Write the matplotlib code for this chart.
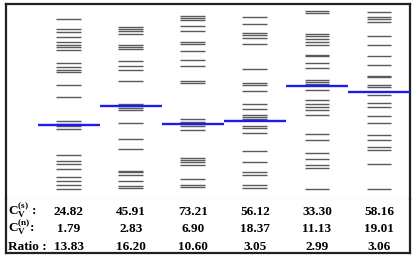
import numpy as np
import matplotlib
matplotlib.use("Agg")
import matplotlib.pyplot as plt

# energy levels per column (arbitrary units)
levels = [
    [180, 169.7, 167.3, 162, 156.7, 153.7, 151.7, 149, 136, 132, 129.3, 127,
     113.7, 101.7, 78, 75.3, 73, 70.3, 44, 38.3, 35.3, 30, 22, 17.7, 13.7, 10],
    [171.7, 169.7, 168, 164.7, 154, 152, 150.3, 138, 133, 129, 118, 94.7, 93,
     91, 89.3, 75.7, 60.3, 49.7, 28.3, 26.7, 23.7, 18, 13.3, 11],
    [183, 180.7, 178.7, 172.7, 168, 156.7, 154.7, 148.3, 139, 133.3, 118, 116,
     79.7, 77.3, 75.5, 73.3, 69, 41.3, 38.7, 36.7, 34.3, 19.7, 14, 11.7],
    [181.7, 174.7, 165.7, 164, 160.7, 155, 129.7, 116.3, 113.7, 107.7, 95, 90,
     84, 82, 80, 72.7, 70.7, 66, 47.7, 37.3, 26.7, 24.3, 13.7, 11],
    [188.3, 185.7, 165.3, 162.7, 160.3, 156.7, 153.7, 144, 142.7, 136.3, 131.3,
     118.7, 116.7, 114.7, 109, 99.3, 94.7, 92.3, 89.3, 84, 65.3, 58.7, 45.7,
     39.7, 34, 30.7, 9.7],
    [187.3, 182, 180.3, 176.7, 162.7, 154.3, 143.3, 134, 123.3, 122, 114, 112,
     103.7, 96.3, 92.3, 83.3, 76, 63.7, 58.7, 52, 48.7, 34.7, 10.3],
]
mean_level = [74.3, 92.7, 75.3, 78, 112.7, 107]

cv_s = ["24.82", "45.91", "73.21", "56.12", "33.30", "58.16"]
cv_n = ["1.79", "2.83", "6.90", "18.37", "11.13", "19.01"]
ratio = ["13.83", "16.20", "10.60", "3.05", "2.99", "3.06"]
row_labels = [r"$\mathbf{C_V^{(s)}}$ :", r"$\mathbf{C_V^{(n)}}$:", "Ratio :"]

plt.rcParams["font.family"] = "Liberation Serif"
plt.rcParams["mathtext.fontset"] = "custom"
plt.rcParams["mathtext.rm"] = "Liberation Serif"
plt.rcParams["mathtext.bf"] = "Liberation Serif:bold"

W, H = 416, 257
fig = plt.figure(figsize=(W / 100, H / 100), dpi=100)

x0, x1 = 6, 410
ytop, ysep, ybot = 4, 198.5, 253
xlim = (-0.011, 6.5)

ax = fig.add_axes([x0 / W, (H - ysep) / H, (x1 - x0) / W, (ysep - ytop) / H])
tab = fig.add_axes([x0 / W, (H - ybot) / H, (x1 - x0) / W, (ybot - ysep) / H])

for i, lv in enumerate(levels):
    c = i + 1
    ax.hlines(lv, c - 0.2, c + 0.2, color="#5a5a5a", lw=1.0)
    ax.hlines(mean_level[i], c - 0.5, c + 0.5, color="#1c1cf0", lw=1.7, zorder=3)

ax.set_xlim(*xlim)
ax.set_ylim(0.5, 195)
ax.set_xticks([])
ax.set_yticks([])
for s in ["left", "top", "right"]:
    ax.spines[s].set_linewidth(1.6)
    ax.spines[s].set_color("#202020")
ax.spines["bottom"].set_linewidth(0.8)
ax.spines["bottom"].set_color("#888888")

tab.set_xlim(*xlim)
tab.set_ylim(3.39, 0.36)
tab.set_xticks([])
tab.set_yticks([])
for s in ["left", "bottom", "right"]:
    tab.spines[s].set_linewidth(1.6)
    tab.spines[s].set_color("#202020")
tab.spines["top"].set_visible(False)

fs = 9.5
for r, (lab, vals) in enumerate(zip(row_labels, [cv_s, cv_n, ratio])):
    y = r + 1 + 0.25
    tab.text(0.02, y, lab, ha="left", va="baseline", fontsize=fs,
             fontweight="bold")
    for i, v in enumerate(vals):
        tab.text(i + 1, y, v, ha="center", va="baseline", fontsize=fs,
                 fontweight="bold")

fig.savefig("out.png", dpi=100)
